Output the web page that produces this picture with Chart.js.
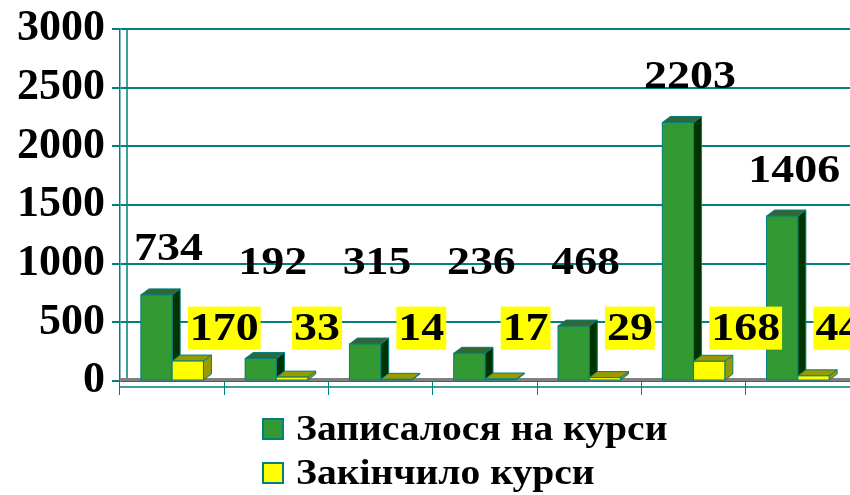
<!DOCTYPE html>
<html>
<head>
<meta charset="utf-8">
<script src="https://cdn.jsdelivr.net/npm/chart.js@4/dist/chart.umd.min.js"></script>
<style>
  body { margin: 0; background: #fff; }
  #wrap { position: relative; width: 850px; height: 495px; }
  #legend { position: absolute; left: 262px; top: 407px; font: bold 35px "Liberation Serif", serif; color: #000; }
  .row { display: flex; align-items: center; height: 44px; }
  .sw { width: 18px; height: 18px; border: 2px solid #008080; margin-right: 12px; }
  .txt { display: inline-block; transform: scaleX(1.13); transform-origin: left center; }
</style>
</head>
<body>
<div id="wrap">
  <canvas id="c" width="850" height="495"></canvas>
  <div id="legend"></div>
</div>
<script>
// дані з діаграми
const categories = ['1', '2', '3', '4', '5', '6', '7'];
const enrolled = [734, 192, 315, 236, 468, 2203, 1406];
const finished = [170, 33, 14, 17, 29, 168, 44];
const seriesNames = ['Записалося на курси', 'Закінчило курси'];
const yTicks = [0, 500, 1000, 1500, 2000, 2500, 3000];

const teal = '#008080';
const faces = [
    { front: '#339933', side: '#003300', top: '#336633' },
    { front: '#ffff00', side: '#999900', top: '#999900' }
];
const DX = 8, DY = 6;
const labelFont = 'bold 41px "Liberation Serif", serif';
const STRETCH = 1.12;

function stretchText(ctx, txt, x, y) {
    ctx.save();
    ctx.translate(x, y);
    ctx.scale(STRETCH, 1);
    ctx.fillText(txt, 0, 0);
    ctx.restore();
}

// 3D грані + підписи значень
const bars3d = {
    id: 'bars3d',
    beforeDatasetsDraw(chart) {
        const ctx = chart.ctx, a = chart.chartArea;
        ctx.save();
        // підлога
        ctx.fillStyle = '#808080';
        ctx.fillRect(a.left, a.bottom - 3, a.right - a.left, 3);
        // задня стінка і передня вісь
        ctx.strokeStyle = teal;
        ctx.lineWidth = 1.5;
        ctx.beginPath();
        ctx.moveTo(a.left + 7, a.top);
        ctx.lineTo(a.left + 7, a.bottom - 3);
        ctx.moveTo(a.left, a.bottom + 6);
        ctx.lineTo(a.right, a.bottom + 6);
        ctx.stroke();
        ctx.restore();
    },
    afterDatasetsDraw(chart) {
        const ctx = chart.ctx;
        ctx.save();
        [0, 1].forEach(di => {
            const f = faces[di];
            chart.getDatasetMeta(di).data.forEach(b => {
                const l = b.x - b.width / 2, r = b.x + b.width / 2;
                const t = b.y, bo = b.base;
                ctx.lineWidth = 1;
                ctx.strokeStyle = teal;
                ctx.fillStyle = f.side;
                ctx.beginPath();
                ctx.moveTo(r, t); ctx.lineTo(r + DX, t - DY);
                ctx.lineTo(r + DX, bo - DY); ctx.lineTo(r, bo);
                ctx.closePath(); ctx.fill(); ctx.stroke();
                ctx.fillStyle = f.top;
                ctx.beginPath();
                ctx.moveTo(l, t); ctx.lineTo(l + DX, t - DY);
                ctx.lineTo(r + DX, t - DY); ctx.lineTo(r, t);
                ctx.closePath(); ctx.fill(); ctx.stroke();
                ctx.fillStyle = f.front;
                ctx.fillRect(l, t, r - l, bo - t);
                ctx.strokeRect(l, t, r - l, bo - t);
            });
        });

        const y = chart.scales.y;
        ctx.font = labelFont;
        ctx.textBaseline = 'middle';
        ctx.textAlign = 'left';
        // зелені підписи
        ctx.fillStyle = '#000';
        chart.getDatasetMeta(0).data.forEach((b, i) => {
            const txt = String(enrolled[i]);
            const w = ctx.measureText(txt).width * STRETCH;
            const cy = Math.min(b.y - 45, y.getPixelForValue(1000));
            stretchText(ctx, txt, b.x + 12 - w / 2, cy);
        });
        // жовті підписи
        const cy = y.getPixelForValue(455);
        chart.getDatasetMeta(1).data.forEach((b, i) => {
            const txt = String(finished[i]);
            const w = ctx.measureText(txt).width * STRETCH;
            ctx.fillStyle = '#ffff00';
            ctx.fillRect(b.x, cy - 21, w + 4, 43);
            ctx.fillStyle = '#000';
            stretchText(ctx, txt, b.x + 2, cy + 2);
        });
        ctx.restore();
    }
};

new Chart(document.getElementById('c'), {
    type: 'bar',
    data: {
        labels: categories,
        datasets: [
            { label: seriesNames[0], data: enrolled, backgroundColor: faces[0].front, borderColor: teal, borderWidth: 1 },
            { label: seriesNames[1], data: finished, backgroundColor: faces[1].front, borderColor: teal, borderWidth: 1 }
        ]
    },
    options: {
        responsive: false,
        animation: false,
        layout: { padding: { top: 6, right: 0, bottom: 100 } },
        datasets: { bar: { categoryPercentage: 0.6, barPercentage: 1.0 } },
        plugins: { legend: { display: false }, tooltip: { enabled: false } },
        scales: {
            x: {
                ticks: { display: false },
                grid: { drawOnChartArea: false, color: teal, tickLength: 14, offset: true },
                border: { display: false }
            },
            y: {
                min: 0, max: 3000,
                afterBuildTicks(s) { s.ticks = yTicks.map(v => ({ value: v })); },
                afterFit(s) { s.width = 120; },
                ticks: {
                    color: '#000', padding: 7,
                    font: { family: '"Liberation Serif", serif', size: 44, weight: 'bold', lineHeight: 1 },
                    callback: v => String(v)
                },
                grid: { color: teal, lineWidth: 2, tickLength: 8 },
                border: { color: teal, width: 1.5 }
            }
        }
    },
    plugins: [bars3d]
});

// легенда
const legend = document.getElementById('legend');
seriesNames.forEach((name, i) => {
    const row = document.createElement('div');
    row.className = 'row';
    const sw = document.createElement('div');
    sw.className = 'sw';
    sw.style.background = faces[i].front;
    const t = document.createElement('span');
    t.className = 'txt';
    t.textContent = name;
    row.appendChild(sw);
    row.appendChild(t);
    legend.appendChild(row);
});
</script>
</body>
</html>
